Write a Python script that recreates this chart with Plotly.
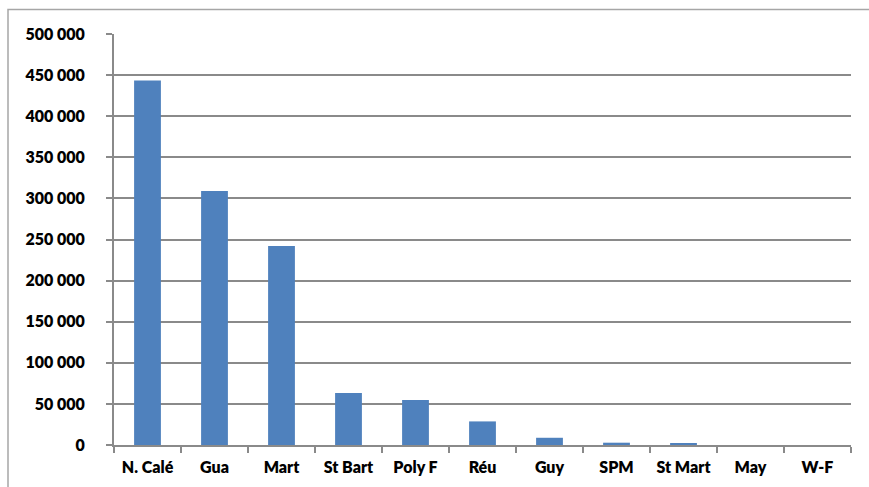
import plotly.graph_objects as go

categories = ["N. Calé", "Gua", "Mart", "St Bart", "Poly F", "Réu", "Guy", "SPM", "St Mart", "May", "W-F"]
values = [443500, 309000, 242000, 63200, 54700, 28700, 8800, 2800, 1900, 0, 0]
y_ticks = [0, 50000, 100000, 150000, 200000, 250000, 300000, 350000, 400000, 450000, 500000]

W, H = 869, 487
ml, mr, mt, mb = 114, 18, 34, 42
pw = W - ml - mr
ph = H - mt - mb

fig = go.Figure()
fig.add_trace(go.Bar(x=categories, y=values, marker=dict(color="#4f81bd", line=dict(width=0)), width=0.4))

tf = dict(family="Lato, 'Open Sans', sans-serif", size=16, color="#000000", weight=800)
fig.update_layout(
    width=W, height=H,
    margin=dict(l=ml, r=mr, t=mt, b=mb),
    paper_bgcolor="white", plot_bgcolor="white",
    separators=", ",
    showlegend=False,
    font=tf,
    xaxis=dict(
        showline=True, linecolor="#8a8a8a", linewidth=2,
        ticks="outside", tickson="boundaries", ticklen=6, tickcolor="#8a8a8a", tickwidth=2,
        tickfont=tf,
        showgrid=False,
        ticklabelstandoff=7,
    ),
    yaxis=dict(
        range=[0, 500000], tickvals=y_ticks, tickformat=",d",
        showline=True, linecolor="#8a8a8a", linewidth=2,
        ticks="outside", ticklen=6, tickcolor="#8a8a8a", tickwidth=2,
        showgrid=True, gridcolor="#8a8a8a", gridwidth=2,
        zeroline=False,
        tickfont=tf,
        ticklabelstandoff=18,
    ),
)

# outer chart border
x0 = (8 - ml) / pw
y1 = 1 + (mt - 9.5) / ph
x1 = (W + 5 - ml) / pw
y0 = -(H + 5 - mt - ph) / ph
fig.add_shape(type="rect", xref="paper", yref="paper", x0=x0, x1=x1, y0=y0, y1=y1,
              line=dict(color="#a6a6a6", width=1.5), fillcolor="rgba(0,0,0,0)", layer="below")

fig.write_html("out.html")
